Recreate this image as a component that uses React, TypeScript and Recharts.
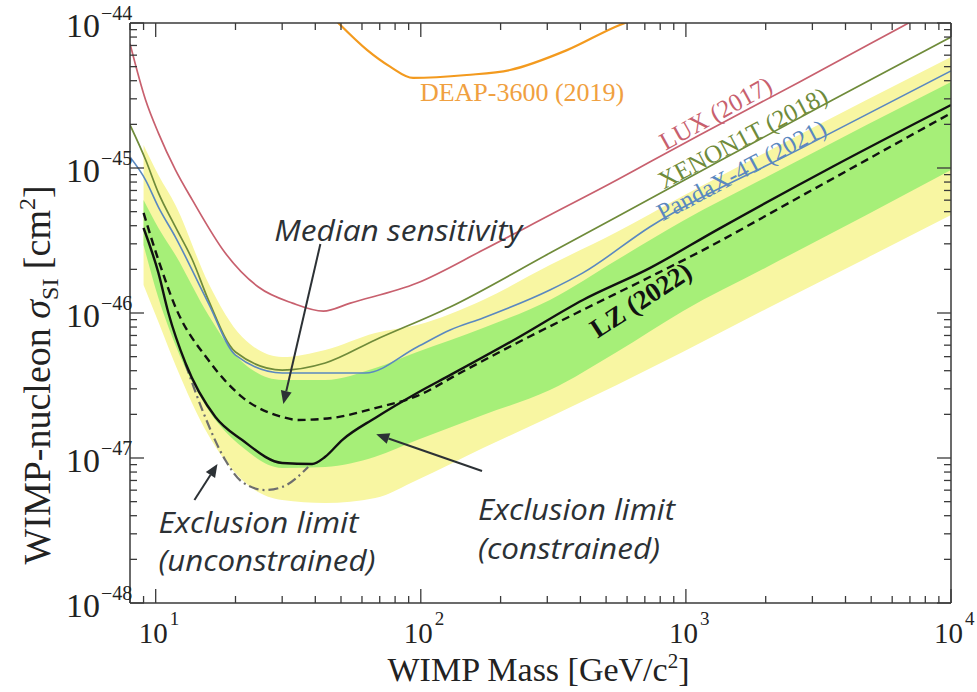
import React from 'react';
import { ComposedChart, XAxis, YAxis, Line, Area, ReferenceLine, ReferenceDot, Label } from 'recharts';

type Pt = [number, number];

const SERIF = '"Liberation Serif", "Times New Roman", serif';
const SANS = '"Open Sans", "Noto Sans", sans-serif';
const FRAME = '#3a3a3a';
const INK = '#2c3135';

// axis ticks
const X_MAJOR = [10, 100, 1000, 10000];
const Y_MAJOR = [1e-48, 1e-47, 1e-46, 1e-45, 1e-44];
const MANTISSA = [2, 3, 4, 5, 6, 7, 8, 9];
const X_TICKS = [8, 9, ...X_MAJOR.slice(0, 3).flatMap((p) => MANTISSA.map((d) => d * p)), ...X_MAJOR];
const Y_TICKS = [...Y_MAJOR.slice(0, 4).flatMap((p) => [p, ...MANTISSA.map((d) => d * p)]), 1e-44];

// [WIMP mass GeV/c^2, sigma_SI cm^2]
const DEAP_2019: Pt[] = [
  [47.6, 1.05e-44], [49.7, 9.7e-45], [62.8, 6.5e-45], [76.6, 5.0e-45], [93.5, 4.18e-45],
  [149, 4.38e-45], [217, 4.74e-45], [356, 6.5e-45], [563, 9.7e-45], [614, 1.03e-44],
];
const LUX_2017: Pt[] = [
  [8, 7.2e-45], [9.16, 2.94e-45], [10.24, 1.74e-45], [11.87, 9.7e-46], [13.76, 6.0e-46],
  [18.3, 2.59e-46], [24.4, 1.51e-46], [32.8, 1.17e-46], [42.9, 1.03e-46], [54.2, 1.17e-46],
  [96.9, 1.61e-46], [171.7, 2.72e-46], [306.9, 4.74e-46], [548.8, 8.26e-46], [730.5, 1.1e-45],
  [1127, 1.69e-45], [2683, 3.92e-45], [6387, 9.24e-45], [10000, 1.44e-44],
];
const XENON1T_2018: Pt[] = [
  [8, 1.98e-45], [9.16, 1.14e-45], [10.24, 6.73e-46], [11.87, 3.92e-46], [13.76, 2.32e-46],
  [15.8, 1.23e-46], [20.0, 5.38e-47], [30.0, 4.04e-47], [43.6, 4.52e-47], [67.3, 6.52e-47],
  [129, 1.1e-46], [306.9, 2.59e-46], [972.8, 8.13e-46], [3572, 2.94e-45], [10000, 8.0e-45],
];
const PANDAX4T_2021: Pt[] = [
  [8, 1.19e-45], [9.16, 8.26e-46], [10.24, 5.38e-46], [11.87, 3.34e-46], [15.8, 1.17e-46],
  [20.0, 5.13e-47], [30.0, 3.86e-47], [61.7, 3.86e-47], [96.9, 5.83e-47], [129, 7.63e-47],
  [171.7, 9.24e-47], [306.9, 1.44e-46], [408.7, 1.89e-46], [730.5, 3.92e-46], [2683, 1.35e-45],
  [10000, 4.67e-45],
];
const LZ_2022: Pt[] = [
  [9.0, 3.86e-46], [10.24, 1.89e-46], [11.17, 1.0e-46], [12.95, 4.52e-47], [16.8, 1.92e-47],
  [21.2, 1.33e-47], [30.0, 9.24e-48], [38.9, 9.09e-48], [43.6, 1.02e-47], [50.5, 1.33e-47],
  [67.3, 1.89e-47], [96.9, 2.81e-47], [129, 3.73e-47], [230.6, 6.7e-47], [408.7, 1.23e-46],
  [730.5, 2.04e-46], [1306, 3.73e-46], [3572, 1.02e-45], [10000, 2.72e-45],
];
const LZ_MEDIAN: Pt[] = [
  [9.0, 4.9e-46], [10.24, 2.32e-46], [11.87, 1.1e-46], [15.8, 4.74e-47], [21.2, 2.63e-47],
  [30.0, 1.92e-47], [34.5, 1.83e-47], [46.3, 1.89e-47], [67.3, 2.21e-47], [96.9, 2.68e-47],
  [140.6, 3.86e-47], [230.6, 6.21e-47], [408.7, 1.05e-46], [730.5, 1.77e-46], [1127, 2.64e-46],
  [2683, 6.31e-46], [10000, 2.39e-45],
];
const LZ_UNCONSTRAINED: Pt[] = [
  [12.95, 4.45e-47], [15.0, 2.14e-47], [18.3, 9.68e-48], [21.2, 6.83e-48], [25.9, 6.01e-48],
  [30.0, 6.31e-48], [37.6, 8.67e-48],
];

// sensitivity bands
const BAND_MASS = [9.0, 10.24, 11.87, 15.8, 21.2, 30.0, 43.6, 67.3, 96.9, 171.7, 306.9, 548.8, 972.8, 2015, 4798, 10000];
const GREEN_HI = [6.01e-46, 3.86e-46, 2.51e-46, 9.68e-47, 4.59e-47, 3.45e-47, 3.45e-47, 4.17e-47, 5.38e-47, 7.88e-47, 1.23e-46, 2.32e-46, 4.31e-46, 8.67e-46, 1.98e-45, 3.92e-45];
const GREEN_LO = [2.94e-46, 1.27e-46, 6.01e-47, 2.14e-47, 1.19e-47, 8.53e-48, 8.67e-48, 1.02e-47, 1.33e-47, 1.98e-47, 2.94e-47, 5.38e-47, 1.03e-46, 2.07e-46, 4.74e-46, 9.68e-46];
const YELLOW_HI = [1.44e-45, 8.95e-46, 5.56e-46, 1.61e-46, 6.83e-47, 4.97e-47, 5.56e-47, 7.28e-47, 8.26e-47, 1.23e-46, 2.14e-46, 3.62e-46, 6.41e-46, 1.29e-45, 2.94e-45, 5.83e-45];
const YELLOW_LO = [1.56e-46, 8.67e-47, 4.38e-47, 1.44e-47, 7.05e-48, 5.13e-48, 4.9e-48, 5.3e-48, 7.05e-48, 1.17e-47, 1.92e-47, 3.19e-47, 5.38e-47, 1.07e-46, 2.39e-46, 4.74e-46];

const SERIES_LABELS = [
  { text: 'DEAP-3600 (2019)', m: 241, s: 3.34e-45, color: '#f0a040', angle: 0, bold: false, size: 26 },
  { text: 'LUX (2017)', m: 1295, s: 2.39e-45, color: '#c8606e', angle: -29, bold: false, size: 25 },
  { text: 'XENON1T (2018)', m: 1637, s: 1.61e-45, color: '#6f8b3a', angle: -28, bold: false, size: 25 },
  { text: 'PandaX-4T (2021)', m: 1620, s: 9.68e-46, color: '#5a88c0', angle: -28, bold: false, size: 25 },
  { text: 'LZ (2022)', m: 676, s: 1.23e-46, color: '#111111', angle: -33, bold: true, size: 27 },
];

const NOTES = [
  { text: 'Median sensitivity', m: 28.0, s: 3.79e-46, w: 248 },
  { text: 'Exclusion limit', m: 10.24, s: 3.62e-48, w: 200 },
  { text: '(unconstrained)', m: 10.24, s: 1.98e-48, w: 217 },
  { text: 'Exclusion limit', m: 164.4, s: 4.52e-48, w: 197 },
  { text: '(constrained)', m: 164.4, s: 2.43e-48, w: 182 },
];

const ARROWS: Pt[][] = [
  [[41.8, 2.99e-46], [30.3, 2.36e-47]],
  [[14.0, 5.13e-48], [17.1, 9.09e-48]],
  [[170.2, 8.13e-48], [67.9, 1.46e-47]],
];

const toRows = (pts: Pt[]) => pts.map(([m, s]) => ({ m, s }));
const bandRows = BAND_MASS.map((m, i) => ({
  m,
  green: [GREEN_LO[i], GREEN_HI[i]],
  yellow: [YELLOW_LO[i], YELLOW_HI[i]],
}));

const isMajor = (v: number) => {
  const l = Math.log10(v);
  return Math.abs(l - Math.round(l)) < 1e-6;
};

function BottomTick({ x, y, payload }: any) {
  const v = payload.value;
  const major = isMajor(v);
  return (
    <g>
      <line x1={x} x2={x} y1={y} y2={y - (major ? 14 : 7)} stroke={FRAME} strokeWidth={1.3} />
      {major && (
        <g fontFamily={SERIF} fill="#222">
          <text x={x + 12} y={y + 40} textAnchor="end" fontSize={29}>10</text>
          <text x={x + 14} y={y + 22} fontSize={19}>{Math.round(Math.log10(v))}</text>
        </g>
      )}
    </g>
  );
}

function TopTick({ x, y, payload }: any) {
  const major = isMajor(payload.value);
  return <line x1={x} x2={x} y1={y} y2={y + (major ? 14 : 7)} stroke={FRAME} strokeWidth={1.3} />;
}

function LeftTick({ x, y, payload }: any) {
  const v = payload.value;
  const major = isMajor(v);
  return (
    <g>
      <line x1={x} x2={x + (major ? 14 : 7)} y1={y} y2={y} stroke={FRAME} strokeWidth={1.3} />
      {major && (
        <g fontFamily={SERIF} fill="#222">
          <text x={x - 30} y={y + 14} textAnchor="end" fontSize={34}>10</text>
          <text x={x - 29} y={y - 3} fontSize={20}>{'\u2212' + String(-Math.round(Math.log10(v)))}</text>
        </g>
      )}
    </g>
  );
}

function RightTick({ x, y, payload }: any) {
  const major = isMajor(payload.value);
  return <line x1={x} x2={x - (major ? 14 : 7)} y1={y} y2={y} stroke={FRAME} strokeWidth={1.3} />;
}

function YTitle({ viewBox }: any) {
  const cx = viewBox.x + 50;
  const cy = viewBox.y + viewBox.height / 2 + 62;
  return (
    <text transform={`translate(${cx},${cy}) rotate(-90)`} textAnchor="middle" fontFamily={SERIF} fontSize={38} fill="#222">
      {'WIMP-nucleon '}
      <tspan fontStyle="italic">σ</tspan>
      <tspan fontSize={24} dy={8}>SI</tspan>
      <tspan dy={-8}>{' [cm'}</tspan>
      <tspan fontSize={24} dy={-15}>2</tspan>
      <tspan dy={15}>]</tspan>
    </text>
  );
}

function XTitle({ viewBox }: any) {
  const cx = viewBox.x + viewBox.width / 2;
  return (
    <text x={cx - 2} y={681} textAnchor="middle" fontFamily={SERIF} fontSize={34} fill="#222">
      {'WIMP Mass [GeV/c'}
      <tspan fontSize={21} dy={-13}>2</tspan>
      <tspan dy={13}>]</tspan>
    </text>
  );
}

function Arrow(props: any) {
  const { x1, y1, x2, y2 } = props;
  const a = Math.atan2(y2 - y1, x2 - x1);
  const L = 13;
  const W = 5.5;
  const bx = x2 - L * Math.cos(a);
  const by = y2 - L * Math.sin(a);
  const px = -Math.sin(a) * W;
  const py = Math.cos(a) * W;
  return (
    <g>
      <line x1={x1} y1={y1} x2={bx} y2={by} stroke={INK} strokeWidth={2} />
      <polygon points={`${x2},${y2} ${bx + px},${by + py} ${bx - px},${by - py}`} fill={INK} />
    </g>
  );
}

export default function App() {
  return (
    <div style={{ position: 'absolute', left: 0, top: 0, width: 977, height: 692, background: '#fff' }}>
      <ComposedChart width={977} height={692} margin={{ top: 22, right: 25, bottom: 0, left: 0 }}>
        <XAxis
          dataKey="m" type="number" scale="log" domain={[8, 10000]} allowDataOverflow
          ticks={X_TICKS} interval={0} tickSize={0} tickMargin={0} tickLine={false}
          tick={BottomTick} height={89} axisLine={{ stroke: FRAME, strokeWidth: 1.5 }}
        >
          <Label content={XTitle} />
        </XAxis>
        <XAxis
          xAxisId="top" orientation="top" dataKey="m" type="number" scale="log" domain={[8, 10000]}
          allowDataOverflow ticks={X_TICKS} interval={0} tickSize={0} tickMargin={0} tickLine={false}
          tick={TopTick} height={1} axisLine={{ stroke: FRAME, strokeWidth: 1.5 }}
        />
        <YAxis
          type="number" scale="log" domain={[1e-48, 1e-44]} allowDataOverflow
          ticks={Y_TICKS} interval={0} tickSize={0} tickMargin={0} tickLine={false}
          tick={LeftTick} width={130} axisLine={{ stroke: FRAME, strokeWidth: 1.5 }}
        >
          <Label content={YTitle} />
        </YAxis>
        <YAxis
          yAxisId="right" orientation="right" type="number" scale="log" domain={[1e-48, 1e-44]}
          allowDataOverflow ticks={Y_TICKS} interval={0} tickSize={0} tickMargin={0} tickLine={false}
          tick={RightTick} width={1} axisLine={{ stroke: FRAME, strokeWidth: 1.5 }}
        />

        <Area data={bandRows} dataKey="yellow" type="monotone" stroke="none" fill="#f8f6a2" fillOpacity={1} isAnimationActive={false} />
        <Area data={bandRows} dataKey="green" type="monotone" stroke="none" fill="#a6ef78" fillOpacity={1} isAnimationActive={false} />

        {/* mirror axes need a series to resolve; this one draws nothing */}
        <Line data={toRows(LZ_2022)} dataKey="s" xAxisId="top" yAxisId="right" stroke="none" dot={false} isAnimationActive={false} />

        <Line data={toRows(DEAP_2019)} dataKey="s" type="monotone" stroke="#f39a1e" strokeWidth={2.2} dot={false} isAnimationActive={false} />
        <Line data={toRows(LUX_2017)} dataKey="s" type="monotone" stroke="#c8606e" strokeWidth={1.7} dot={false} isAnimationActive={false} />
        <Line data={toRows(XENON1T_2018)} dataKey="s" type="monotoneX" stroke="#6f8b3a" strokeWidth={1.7} dot={false} isAnimationActive={false} />
        <Line data={toRows(PANDAX4T_2021)} dataKey="s" type="monotoneX" stroke="#5a88c0" strokeWidth={1.6} dot={false} isAnimationActive={false} />
        <Line data={toRows(LZ_UNCONSTRAINED)} dataKey="s" type="monotone" stroke="#6e6e6e" strokeWidth={2.2} strokeDasharray="10 4 2 4" dot={false} isAnimationActive={false} />
        <Line data={toRows(LZ_MEDIAN)} dataKey="s" type="monotone" stroke="#111" strokeWidth={2.4} strokeDasharray="8 5" dot={false} isAnimationActive={false} />
        <Line data={toRows(LZ_2022)} dataKey="s" type="monotone" stroke="#111" strokeWidth={2.4} dot={false} isAnimationActive={false} />

        {SERIES_LABELS.map((l) => (
          <ReferenceDot
            key={l.text} x={l.m} y={l.s} r={0}
            shape={(p: any) => (
              <text
                x={p.cx} y={p.cy} textAnchor="middle" dominantBaseline="central"
                transform={`rotate(${l.angle}, ${p.cx}, ${p.cy})`}
                fontFamily={SERIF} fontSize={l.size} fontWeight={l.bold ? 700 : 400} fill={l.color}
              >
                {l.text}
              </text>
            )}
          />
        ))}

        {ARROWS.map((seg, i) => (
          <ReferenceLine key={i} segment={seg.map(([m, s]) => ({ x: m, y: s }))} shape={Arrow} />
        ))}

        {NOTES.map((n, i) => (
          <ReferenceDot
            key={i} x={n.m} y={n.s} r={0}
            shape={(p: any) => (
              <text
                x={p.cx} y={p.cy} dominantBaseline="central" fontFamily={SANS} fontStyle="italic"
                fontSize={30} fill={INK} textLength={n.w} lengthAdjust="spacingAndGlyphs"
              >
                {n.text}
              </text>
            )}
          />
        ))}
      </ComposedChart>
    </div>
  );
}
